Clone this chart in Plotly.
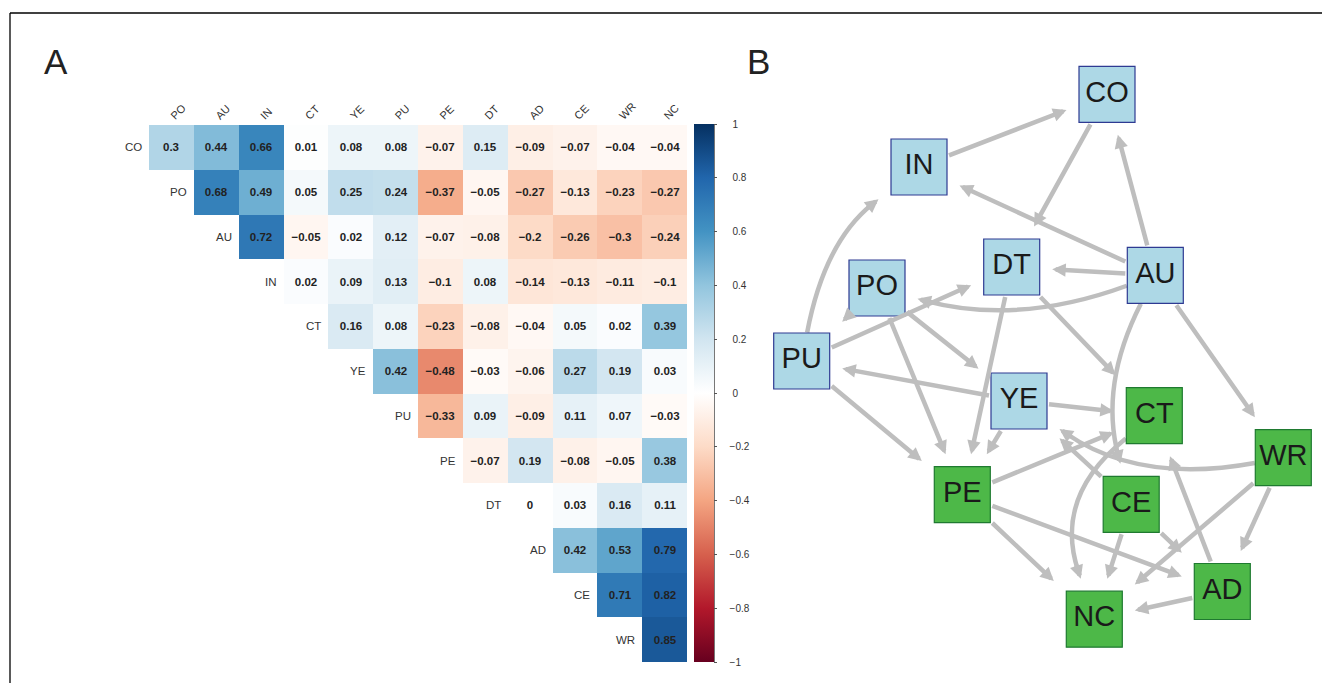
import math
import plotly.graph_objects as go

# The page body has an 8px margin: the figure is sized to fit the window exactly.
OX, OY = 8, 8
FW, FH = 1314, 675
FONT = "Liberation Sans, Arial, sans-serif"


def px(x):
    return (x - OX) / FW


def py(y):
    return 1 - (y - OY) / FH


# ---------------- Panel A data ----------------
col_labels = ["PO", "AU", "IN", "CT", "YE", "PU", "PE", "DT", "AD", "CE", "WR", "NC"]
row_labels = ["CO", "PO", "AU", "IN", "CT", "YE", "PU", "PE", "DT", "AD", "CE", "WR"]

corr_CO = [0.3, 0.44, 0.66, 0.01, 0.08, 0.08, -0.07, 0.15, -0.09, -0.07, -0.04, -0.04]
corr_PO = [0.68, 0.49, 0.05, 0.25, 0.24, -0.37, -0.05, -0.27, -0.13, -0.23, -0.27]
corr_AU = [0.72, -0.05, 0.02, 0.12, -0.07, -0.08, -0.2, -0.26, -0.3, -0.24]
corr_IN = [0.02, 0.09, 0.13, -0.1, 0.08, -0.14, -0.13, -0.11, -0.1]
corr_CT = [0.16, 0.08, -0.23, -0.08, -0.04, 0.05, 0.02, 0.39]
corr_YE = [0.42, -0.48, -0.03, -0.06, 0.27, 0.19, 0.03]
corr_PU = [-0.33, 0.09, -0.09, 0.11, 0.07, -0.03]
corr_PE = [-0.07, 0.19, -0.08, -0.05, 0.38]
corr_DT = [0, 0.03, 0.16, 0.11]
corr_AD = [0.42, 0.53, 0.79]
corr_CE = [0.71, 0.82]
corr_WR = [0.85]

cb_ticks = [1, 0.8, 0.6, 0.4, 0.2, 0, -0.2, -0.4, -0.6, -0.8, -1]

# ---------------- Panel B data ----------------
node_names = ["CO", "IN", "DT", "AU", "PO", "PU", "YE", "CT", "WR", "PE", "CE", "AD", "NC"]
node_x = [347, 159, 251.7, 395.3, 117, 41.7, 259, 394.3, 523.3, 202.3, 371.2, 462.3, 334.3]
node_y = [595.7, 523, 423, 414.7, 402, 329, 289, 274.3, 232.3, 195.3, 185.7, 98.5, 70.8]
node_group = ["blue", "blue", "blue", "blue", "blue", "blue", "blue",
              "green", "green", "green", "green", "green", "green"]

edge_from = ["IN", "CO", "AU", "AU", "AU", "AU", "PU", "PO", "PU", "PO", "PO", "DT", "DT",
             "AU", "AU", "YE", "YE", "YE", "PU", "PE", "WR", "CE", "PE", "PE", "CE", "CE",
             "AD", "WR", "WR", "AD", "CT"]
edge_to = ["CO", "DT", "CO", "IN", "DT", "PO", "IN", "PU", "DT", "PE", "YE", "PE", "CT",
           "CE", "WR", "PU", "CT", "PE", "PE", "CT", "YE", "YE", "AD", "NC", "NC", "AD",
           "CT", "NC", "AD", "NC", "NC"]
edge_bend = [0, 0, 0, 0, 0, 22, 21, 0, 0, 0, 0, 0, 0,
             -22, 0, 0, 0, 0, 0, 0, 28, 0, 0, 0, 0, 0,
             0, 0, 0, 0, -37]

# ---------------- styles ----------------
rdbu = ["#67001F", "#B2182B", "#D6604D", "#F4A582", "#FDDBC7", "#FFFFFF",
        "#D1E5F0", "#92C5DE", "#4393C3", "#2166AC", "#053061"]
colorscale = [[i / 10, c] for i, c in enumerate(rdbu)]
node_fill = {"blue": "#ADD8E6", "green": "#4DB848"}
node_line = {"blue": "#2E3A92", "green": "#1F7A30"}
EDGE_COLOR = "#BEBEBE"
EDGE_W = 4.5
HALF = 28.5
GAP = 12
NBSP = "\u00a0"


def fmt(v):
    return f"{v:g}".replace("-", "\u2212")


rows = [corr_CO, corr_PO, corr_AU, corr_IN, corr_CT, corr_YE, corr_PU, corr_PE,
        corr_DT, corr_AD, corr_CE, corr_WR]
z, txt = [], []
for vals in rows:
    pad = len(col_labels) - len(vals)
    z.append([None] * pad + list(vals))
    txt.append([""] * pad + [fmt(v) for v in vals])

fig = go.Figure()

fig.add_trace(go.Heatmap(
    z=z, x=col_labels, y=row_labels, text=txt, texttemplate="%{text}",
    textfont=dict(family=FONT, size=11.5, color="#222222", weight="bold"),
    colorscale=colorscale, zmin=-1, zmax=1, hoverongaps=False,
    xaxis="x", yaxis="y",
    colorbar=dict(
        x=px(694), xanchor="left", xpad=0, y=py(393), yanchor="middle", ypad=0,
        thickness=20, thicknessmode="pixels", len=538, lenmode="pixels",
        outlinewidth=0, ticks="outside", ticklen=3, tickwidth=1, tickcolor="#555555",
        tickmode="array", tickvals=cb_ticks,
        ticktext=[NBSP * (5 if t >= 0 else 4) + fmt(t) for t in cb_ticks],
        tickfont=dict(family=FONT, size=10, color="#333333"),
    ),
))

annotations = []
shapes = []

cell_w = (687 - 149) / len(col_labels)
for i, r in enumerate(row_labels):
    annotations.append(dict(
        x=col_labels[i], y=r, xref="x", yref="y", text=r, showarrow=False,
        xanchor="right", xshift=-(cell_w / 2 + 5),
        font=dict(family=FONT, size=11.5, color="#333333")))

# ---------------- Panel B ----------------
pos = {n: (x, y) for n, x, y in zip(node_names, node_x, node_y)}


def box_exit(cx, cy, dx, dy, h):
    n = math.hypot(dx, dy)
    dx, dy = dx / n, dy / n
    t = h / max(abs(dx), abs(dy))
    return cx + dx * t, cy + dy * t


for a, b, bend in zip(edge_from, edge_to, edge_bend):
    sx, sy = pos[a]
    tx, ty = pos[b]
    dx, dy = tx - sx, ty - sy
    if bend == 0:
        x0, y0 = box_exit(sx, sy, dx, dy, HALF)
        x1, y1 = box_exit(tx, ty, -dx, -dy, HALF + GAP)
        annotations.append(dict(
            x=x1, y=y1, ax=x0, ay=y0, xref="x2", yref="y2", axref="x2", ayref="y2",
            text="", showarrow=True, arrowhead=2, arrowsize=0.6, arrowwidth=EDGE_W,
            arrowcolor=EDGE_COLOR, standoff=0, startstandoff=0))
    else:
        L = math.hypot(dx, dy)
        nx, ny = -dy / L, dx / L
        cx = (sx + tx) / 2 + nx * 2 * bend
        cy = (sy + ty) / 2 + ny * 2 * bend
        x0, y0 = box_exit(sx, sy, cx - sx, cy - sy, HALF)
        x1, y1 = box_exit(tx, ty, cx - tx, cy - ty, HALF + GAP)
        ux, uy = x1 - cx, y1 - cy
        ul = math.hypot(ux, uy)
        ux, uy = ux / ul, uy / ul
        ex, ey = x1 - ux * 8, y1 - uy * 8
        shapes.append(dict(
            type="path", xref="x2", yref="y2", layer="below",
            path=f"M {x0},{y0} Q {cx},{cy} {ex},{ey}",
            line=dict(color=EDGE_COLOR, width=EDGE_W)))
        annotations.append(dict(
            x=x1, y=y1, ax=x1 - ux * 16, ay=y1 - uy * 16,
            xref="x2", yref="y2", axref="x2", ayref="y2",
            text="", showarrow=True, arrowhead=2, arrowsize=0.6, arrowwidth=EDGE_W,
            arrowcolor=EDGE_COLOR, standoff=0, startstandoff=0))

fig.add_trace(go.Scatter(
    x=node_x, y=node_y, mode="markers+text", text=node_names,
    textposition="middle center",
    textfont=dict(family=FONT, size=29, color="#1A1A1A"),
    marker=dict(symbol="square", size=56,
                color=[node_fill[g] for g in node_group],
                line=dict(color=[node_line[g] for g in node_group], width=1.2)),
    xaxis="x2", yaxis="y2", hoverinfo="skip", showlegend=False))

# panel letters
annotations.append(dict(x=px(42), y=py(61), xref="paper", yref="paper", text="A",
                        showarrow=False, xanchor="left", yanchor="middle",
                        font=dict(family=FONT, size=35, color="#222222")))
annotations.append(dict(x=px(745), y=py(61), xref="paper", yref="paper", text="B",
                        showarrow=False, xanchor="left", yanchor="middle",
                        font=dict(family=FONT, size=35, color="#222222")))

# frame
shapes.append(dict(type="line", xref="paper", yref="paper", x0=px(10), x1=px(10),
                   y0=py(13), y1=-0.05, line=dict(color="black", width=1.3)))
shapes.append(dict(type="line", xref="paper", yref="paper", x0=px(10), x1=1.05,
                   y0=py(13), y1=py(13), line=dict(color="black", width=1.3)))
# colorbar right edge
shapes.append(dict(type="line", xref="paper", yref="paper", x0=px(714.5), x1=px(714.5),
                   y0=py(124), y1=py(662), line=dict(color="#777777", width=1)))

fig.update_layout(
    width=FW, height=FH, margin=dict(l=0, r=0, t=0, b=0),
    paper_bgcolor="white", plot_bgcolor="white",
    font=dict(family=FONT, color="#333333"),
    showlegend=False,
    xaxis=dict(domain=[px(149), px(687)], anchor="y", side="top", tickangle=-45,
               range=[-0.5, len(col_labels) - 0.5], autorange=False,
               showgrid=False, zeroline=False, ticks="", showline=False,
               tickfont=dict(family=FONT, size=11, color="#333333")),
    yaxis=dict(domain=[py(662), py(125)], anchor="x",
               range=[len(row_labels) - 0.5, -0.5], autorange=False,
               showticklabels=False, showgrid=False, zeroline=False, showline=False),
    xaxis2=dict(domain=[px(760), 1], anchor="y2", range=[0, 562], visible=False),
    yaxis2=dict(domain=[0, py(40)], anchor="x2", range=[7, 650], visible=False),
    annotations=annotations,
    shapes=shapes,
)

fig.write_html("out.html")
